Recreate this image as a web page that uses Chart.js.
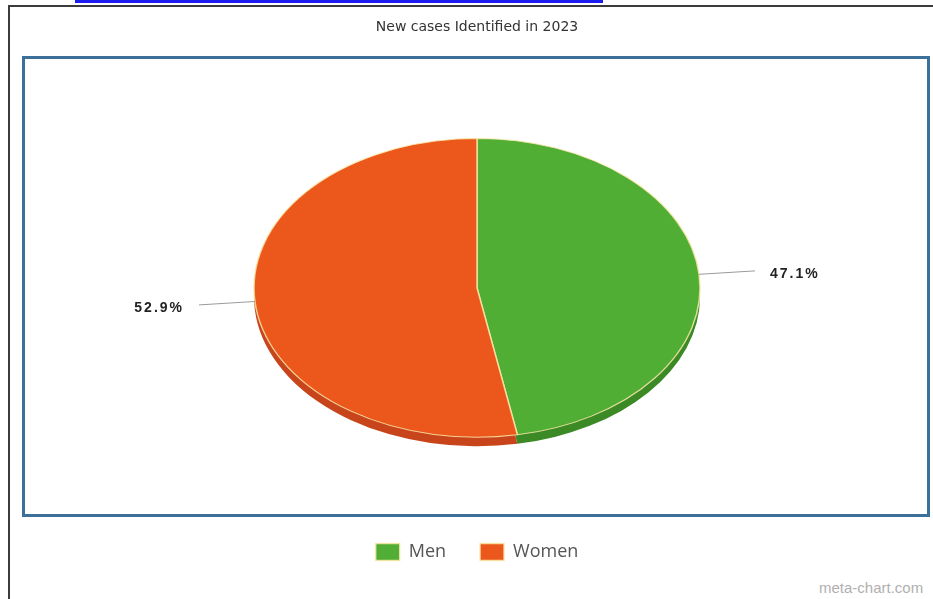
<!DOCTYPE html>
<html>
<head>
<meta charset="utf-8">
<script src="https://cdn.jsdelivr.net/npm/chart.js@4"></script>
<style>
  body { margin: 0; background: #fff; }
  .wrap { position: relative; width: 933px; height: 599px; overflow: hidden; }
  .link { position: absolute; left: 75px; top: 0px; width: 528px; height: 3px; background: #1c1cf0; }
  .frame { position: absolute; left: 8px; top: 5px; right: -4px; bottom: -4px; border-top: 2px solid #3c3c3c; border-left: 2px solid #3c3c3c; }
  .box { position: absolute; left: 22px; top: 56px; width: 908px; height: 461px; box-sizing: border-box; border: 3px solid #3d6f9b; }
  .mark { position: absolute; left: 819px; top: 579px; font: 15px "Liberation Sans", sans-serif; color: #b0b0b0; }
  canvas { position: absolute; left: 0; top: 0; }
</style>
</head>
<body>
<div class="wrap">
  <div class="link"></div>
  <div class="frame"></div>
  <div class="box"></div>
  <div class="mark">meta-chart.com</div>
  <canvas id="myChart" width="933" height="599"></canvas>
</div>
<script>
// --- data ---
const categories = ["Men", "Women"];
const values = [47.1, 52.9];
const colors = ["#4fae33", "#ec581c"];
const sideColors = ["#3b8a26", "#c8441a"];

const squash = 0.67;   // pie is drawn tilted, like an ellipse
const depth = 9;       // thickness of the pie edge

const ellipsePie = {
    id: 'ellipsePie',
    beforeDatasetsDraw(chart) {
        const ctx = chart.ctx;
        const arcs = chart.getDatasetMeta(0).data;
        const cx = arcs[0].x, cy = arcs[0].y;
        ctx.save();
        ctx.translate(cx, cy);
        ctx.scale(1, squash);
        ctx.translate(-cx, -cy);
        // side of the pie first, the top covers most of it
        arcs.forEach((arc, i) => {
            const y = arc.y + depth / squash;
            ctx.beginPath();
            ctx.moveTo(arc.x, y);
            ctx.arc(arc.x, y, arc.outerRadius, arc.startAngle, arc.endAngle);
            ctx.closePath();
            ctx.fillStyle = sideColors[i];
            ctx.fill();
        });
    },
    afterDatasetsDraw(chart) {
        const ctx = chart.ctx;
        ctx.restore();
        const meta = chart.getDatasetMeta(0);
        const total = values.reduce((a, b) => a + b, 0);
        meta.data.forEach((arc, i) => {
            const mid = (arc.startAngle + arc.endAngle) / 2;
            const dx = Math.cos(mid), dy = Math.sin(mid) * squash;
            const len = Math.hypot(dx, dy);
            const x0 = arc.x + Math.cos(mid) * arc.outerRadius;
            const y0 = arc.y + Math.sin(mid) * arc.outerRadius * squash;
            const x1 = x0 + dx / len * 56;
            const y1 = y0 + dy / len * 56;
            ctx.save();
            ctx.strokeStyle = '#9a9a9a';
            ctx.lineWidth = 1;
            ctx.beginPath();
            ctx.moveTo(x0, y0);
            ctx.lineTo(x1, y1);
            ctx.stroke();
            ctx.font = 'bold 14px "Liberation Sans", Arial, sans-serif';
            ctx.letterSpacing = '2px';
            ctx.fillStyle = '#222';
            ctx.textBaseline = 'middle';
            const txt = (values[i] / total * 100).toFixed(1) + '%';
            if (dx >= 0) {
                ctx.textAlign = 'left';
                ctx.fillText(txt, x1 + 15, y1 + 3);
            } else {
                ctx.textAlign = 'right';
                ctx.fillText(txt, x1 - 15, y1 + 3);
            }
            ctx.restore();
        });
    }
};

const ctx = document.getElementById('myChart');

const myChart = new Chart(ctx, {
    type: 'pie',
    data: {
        labels: categories,
        datasets: [{
            data: values,
            backgroundColor: colors,
            borderColor: 'rgba(250, 232, 170, 0.85)',
            borderWidth: 1.5,
            radius: 223,
            clip: false
        }]
    },
    options: {
        responsive: false,
        animation: false,
        layout: { padding: { left: 21, right: 0, top: 0, bottom: 28 } },
        plugins: {
            title: {
                display: true,
                text: 'New cases Identified in 2023',
                color: '#333',
                font: { family: '"DejaVu Sans", sans-serif', size: 14, weight: 'normal' },
                padding: { top: 19, bottom: 31 }
            },
            legend: {
                position: 'bottom',
                labels: {
                    boxWidth: 24,
                    boxHeight: 17,
                    padding: 34,
                    color: '#555',
                    font: { family: '"Open Sans", sans-serif', size: 18 }
                }
            },
            tooltip: { enabled: false }
        }
    },
    plugins: [ellipsePie]
});
</script>
</body>
</html>
